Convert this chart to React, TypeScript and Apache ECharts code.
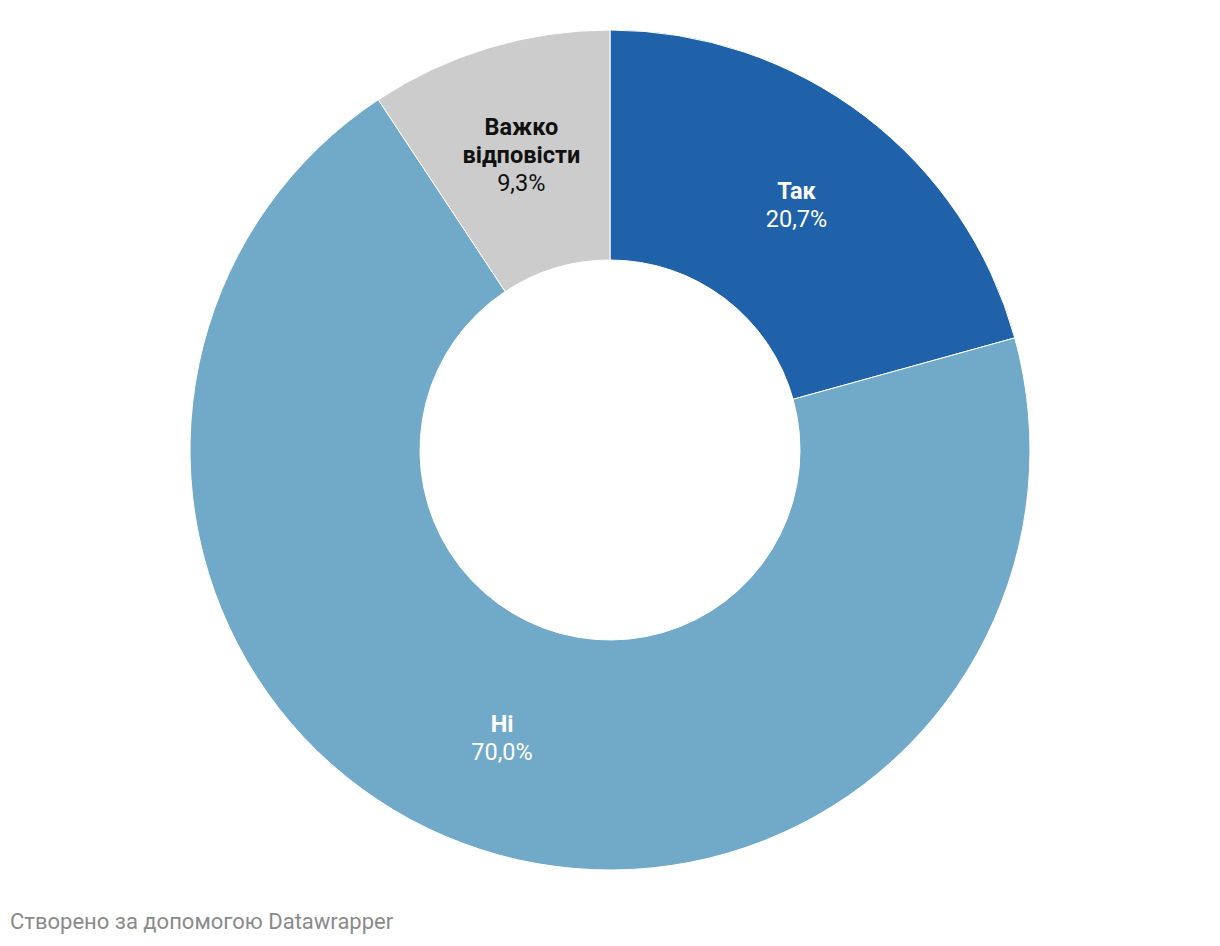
import React, { useEffect, useRef } from "react";
import * as echarts from "echarts";

const categories = ["Так", "Ні", "Важко\nвідповісти"];
const values = [20.7, 70.0, 9.3];
const colors = ["#1f62aa", "#71a9c9", "#cccccc"];
const labelColors = ["#ffffff", "#ffffff", "#111111"];

export default function App() {
  const ref = useRef<HTMLDivElement>(null);
  useEffect(() => {
    const chart = echarts.init(ref.current!, null, { renderer: "svg" });
    chart.setOption({
      animation: false,
      textStyle: { fontFamily: "Roboto" },
      graphic: [
        {
          type: "text",
          left: 10,
          top: 910,
          style: {
            text: "Створено за допомогою Datawrapper",
            fill: "#8a8a8a",
            font: "22px Roboto",
          },
        },
      ],
      series: [
        {
          type: "pie",
          center: [610, 450],
          radius: [190, 420],
          startAngle: 90,
          clockwise: true,
          itemStyle: { borderColor: "#ffffff", borderWidth: 1 },
          label: {
            show: true,
            position: "inside",
            formatter: (p: any) =>
              `{b|${p.name}}\n{c|${p.value.toFixed(1).replace(".", ",")}%}`,
          },
          labelLine: { show: false },
          emphasis: { disabled: true },
          data: categories.map((name, i) => ({
            name,
            value: values[i],
            itemStyle: { color: colors[i] },
            label: {
              rich: {
                b: {
                  fontFamily: "Roboto",
                  fontWeight: "bold",
                  fontSize: 23.5,
                  lineHeight: 28,
                  color: labelColors[i],
                  align: "center",
                },
                c: {
                  fontFamily: "Roboto",
                  fontSize: 23.5,
                  lineHeight: 28,
                  color: labelColors[i],
                  align: "center",
                },
              },
            },
          })),
        },
      ],
    });
    return () => chart.dispose();
  }, []);
  return (
    <div
      ref={ref}
      style={{ position: "absolute", left: 0, top: 0, width: 1220, height: 946 }}
    />
  );
}
